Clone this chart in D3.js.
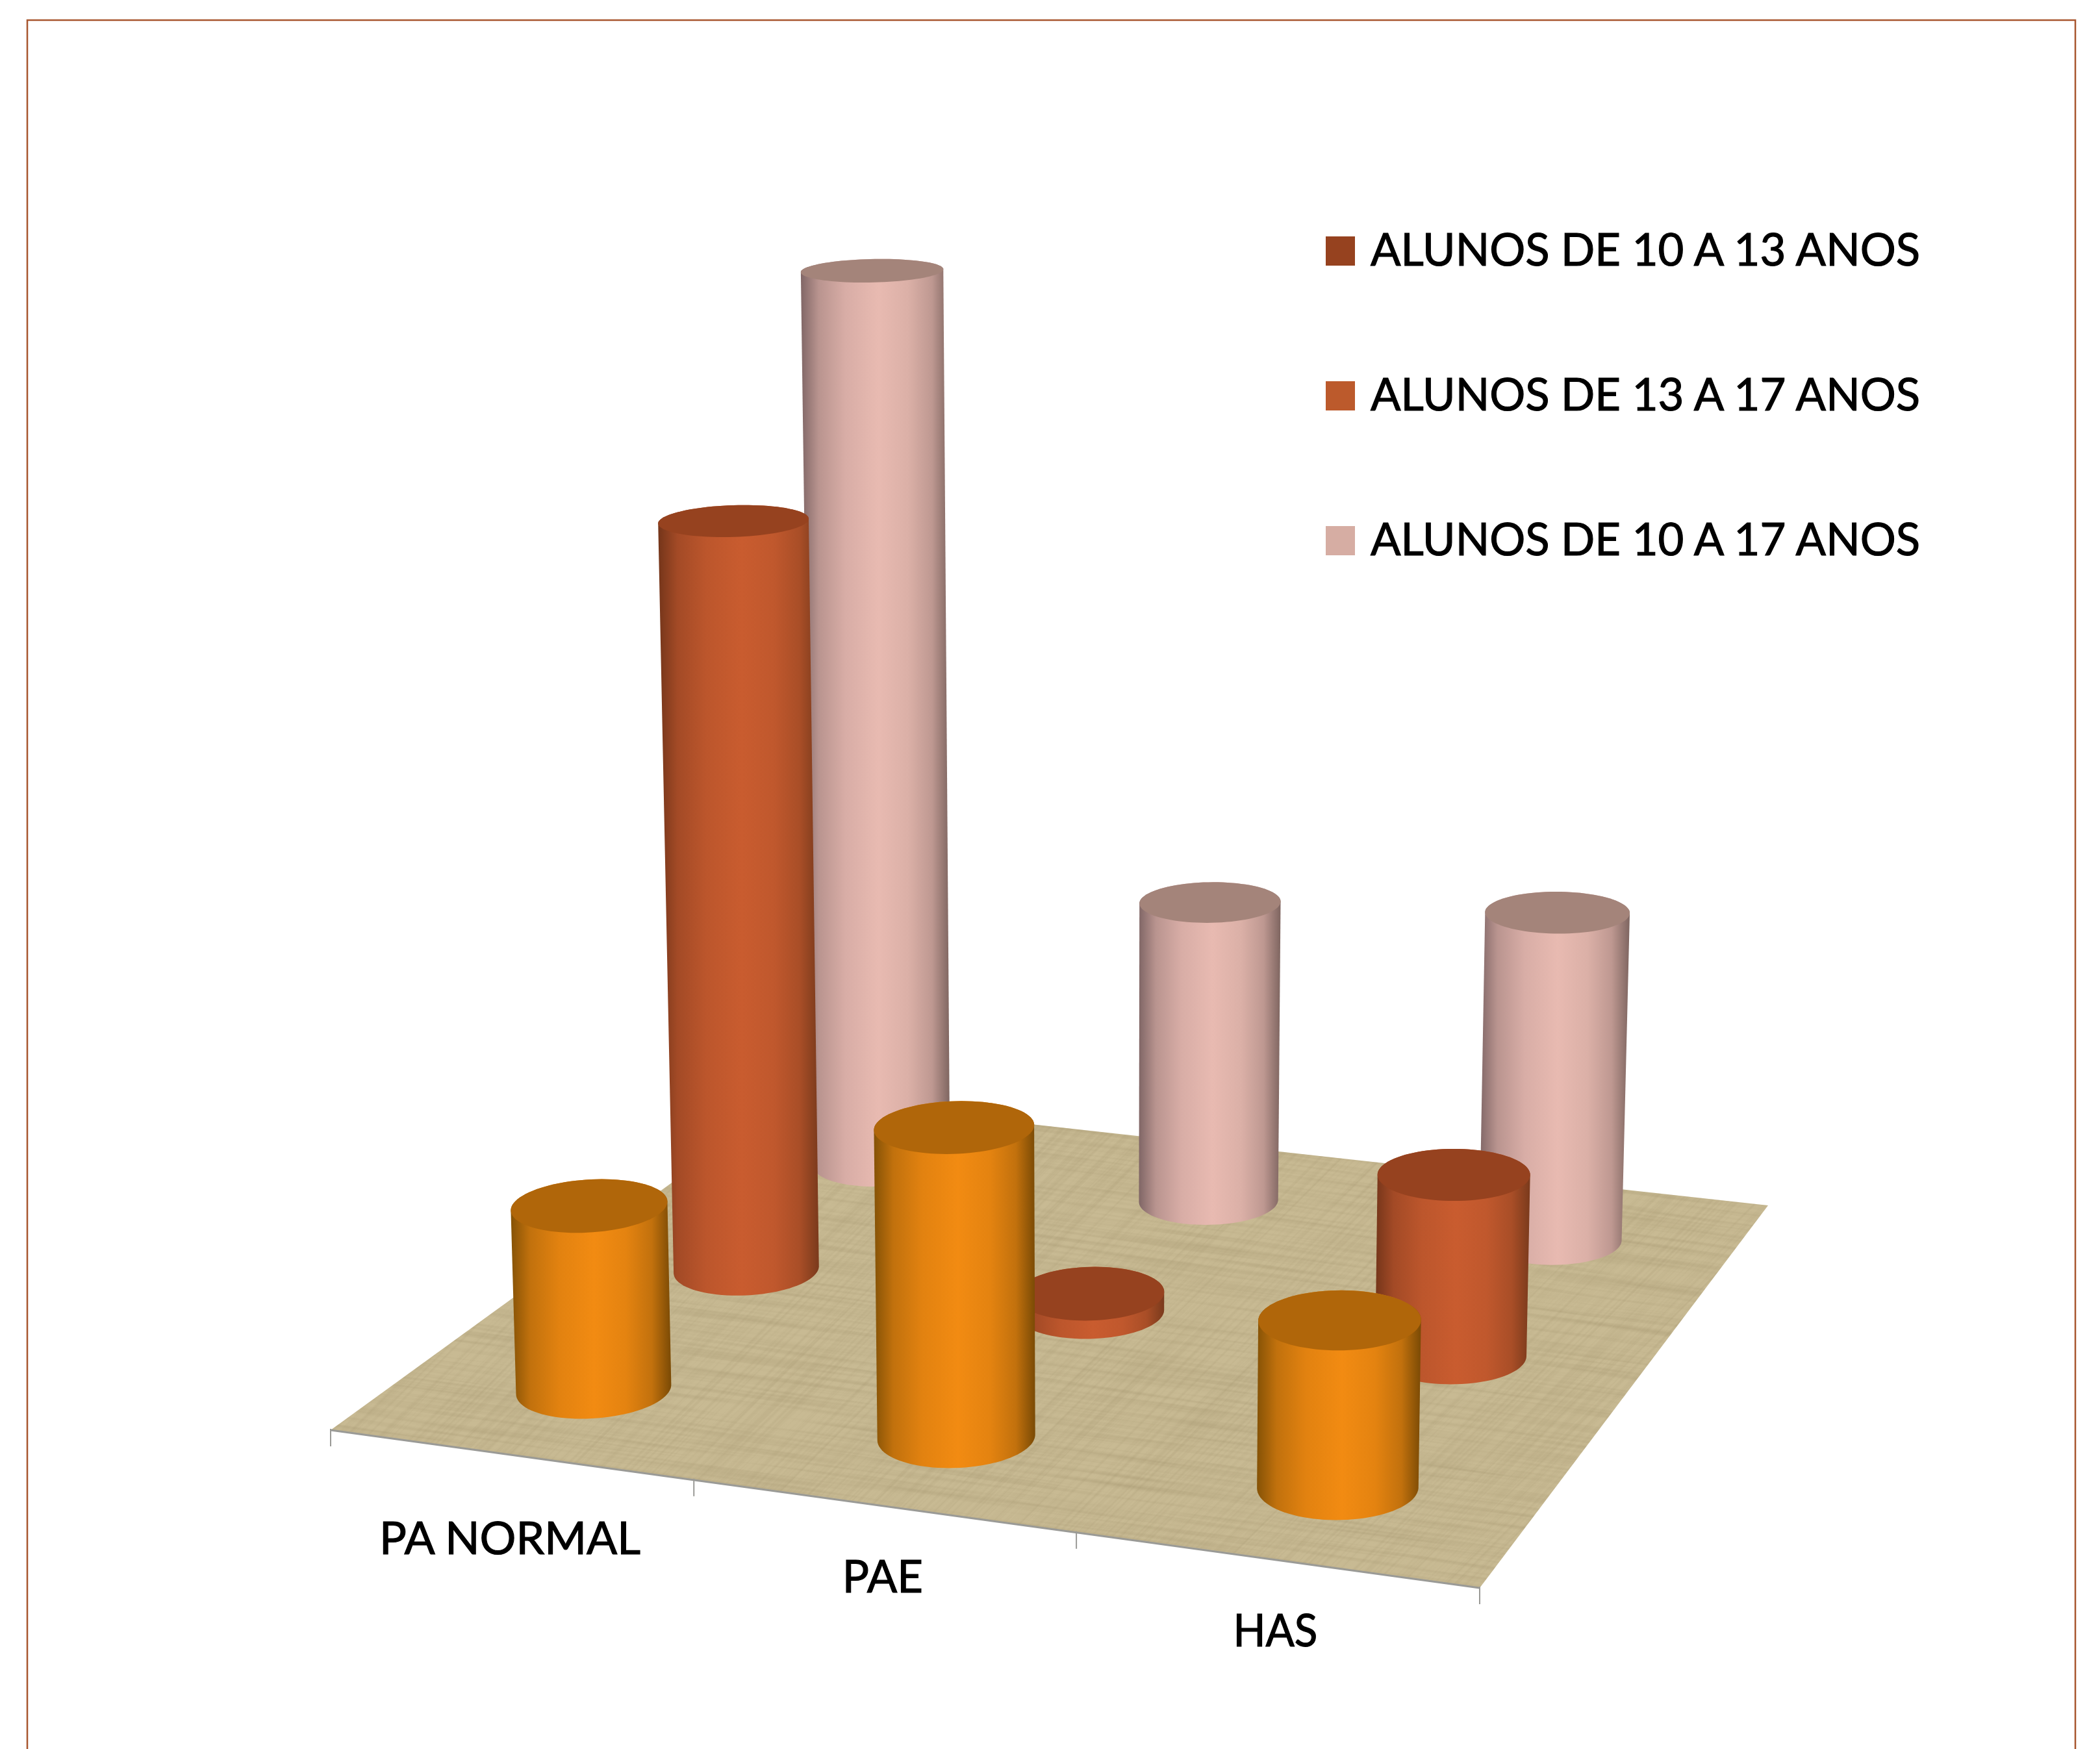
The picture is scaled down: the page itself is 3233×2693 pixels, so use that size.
<!DOCTYPE html>
<html>
<head>
<meta charset="utf-8">
<script src="https://cdnjs.cloudflare.com/ajax/libs/d3/7.8.5/d3.min.js"></script>
<style>
  html, body { margin: 0; padding: 0; background: #fff; }
  svg { display: block; }
  text { font-family: Lato, "Open Sans", sans-serif; fill: #000; stroke: #000; stroke-width: 1.2px; }
</style>
</head>
<body>
<div id="chart"></div>
<script>
//chart values
var categories = ["PA NORMAL", "PAE", "HAS"];
var alunos10a13 = [39, 64, 34];
var alunos13a17 = [164, 4, 39];
var alunos10a17 = [205, 69, 74];
var legendLabels = ["ALUNOS DE 10 A 13 ANOS", "ALUNOS DE 13 A 17 ANOS", "ALUNOS DE 10 A 17 ANOS"];
var legendColors = ["#96421f", "#bc5a2c", "#d6ada3"];

//front row first, back row last
var rows = [alunos10a13, alunos13a17, alunos10a17];
var rowColors = [
  {top: "#b0660a", edgeL: "#855206", mid: "#f28b12", edgeR: "#7a4a05"},
  {top: "#96421f", edgeL: "#74351a", mid: "#c95c2f", edgeR: "#7a3a1c"},
  {top: "#a4847a", edgeL: "#806666", mid: "#e8bab1", edgeR: "#7e6560"}
];

var width = 3233, height = 2693;
var svg = d3.select("#chart").append("svg")
            .attr("width", width)
            .attr("height", height);
var defs = svg.append("defs");

//floor corners on screen: front left, front right, back right, back left
var A = [509, 2202], B = [2278, 2445], C = [2722, 1856], D = [1215, 1690];
//vanishing point of the vertical edges
var vanish = [1700, 34000];

//unit square to floor homography
var dx1 = B[0]-C[0], dx2 = D[0]-C[0], sx = A[0]-B[0]+C[0]-D[0];
var dy1 = B[1]-C[1], dy2 = D[1]-C[1], sy = A[1]-B[1]+C[1]-D[1];
var den = dx1*dy2-dx2*dy1;
var g = (sx*dy2-dx2*sy)/den, h = (dx1*sy-sx*dy1)/den;
var ha = B[0]-A[0]+g*B[0], hb = D[0]-A[0]+h*D[0], hc = A[0];
var hd = B[1]-A[1]+g*B[1], he = D[1]-A[1]+h*D[1], hf = A[1];

function project(u, v, t){
  var w = g*u+h*v+1+t;
  return [(ha*u+hb*v+hc+t*vanish[0])/w, (hd*u+he*v+hf+t*vanish[1])/w];
}

//scales: category along the front edge, row in depth, value upward
var uScale = d3.scaleBand().domain(d3.range(categories.length)).range([0, 1]);
var vScale = d3.scaleBand().domain(d3.range(rows.length)).range([0, 1]);
var tScale = d3.scaleLinear().domain([0, 205]).range([0, -0.0471]);
var radiusU = 0.065, radiusV = 0.073;

//floor
var floorPts = [A, B, C, D];
defs.append("clipPath").attr("id", "floorClip")
    .append("polygon").attr("points", floorPts.join(" "));

function linen(id, fx, fy, seed, op){
  var f = defs.append("filter").attr("id", id)
              .attr("color-interpolation-filters", "sRGB")
              .attr("x", 0).attr("y", 0).attr("width", 1).attr("height", 1);
  f.append("feTurbulence").attr("type", "fractalNoise")
   .attr("baseFrequency", fx+" "+fy).attr("numOctaves", 3).attr("seed", seed);
  f.append("feColorMatrix").attr("type", "matrix")
   .attr("values", "0 0 0 0 0.60  0 0 0 0 0.54  0 0 0 0 0.39  "+op+" 0 0 0 "+(-op*0.40));
}
linen("linenH", 0.003, 0.16, 3, 0.6);
linen("linenV", 0.16, 0.003, 8, 0.45);

var floor = svg.append("g").attr("id", "floor");
floor.append("polygon")
     .attr("points", floorPts.join(" "))
     .attr("fill", "#c8ba93");
var tex = floor.append("g").attr("clip-path", "url(#floorClip)");
tex.append("rect").attr("x", 0).attr("y", 1000).attr("width", 3000).attr("height", 1700)
   .attr("transform", "rotate(7.8 1500 2000)")
   .attr("filter", "url(#linenH)");
tex.append("rect").attr("x", 0).attr("y", 1000).attr("width", 3000).attr("height", 1700)
   .attr("transform", "translate(2000 0) skewX(-45)")
   .attr("filter", "url(#linenV)");

//front edge and ticks
var frontEdge = svg.append("g").attr("id", "xaxis");
frontEdge.append("line")
         .attr("x1", A[0]).attr("y1", A[1]).attr("x2", B[0]).attr("y2", B[1])
         .attr("stroke", "#9a9a96").attr("stroke-width", 3);
var tickU = uScale.domain().map(function(d){ return uScale(d); }).concat([1]);
frontEdge.selectAll("line.tick")
         .data(tickU)
         .enter()
         .append("line")
         .attr("class", "tick")
         .attr("x1", function(d){ return project(d, 0, 0)[0]; })
         .attr("x2", function(d){ return project(d, 0, 0)[0]; })
         .attr("y1", function(d){ return project(d, 0, 0)[1]-2; })
         .attr("y2", function(d){ return project(d, 0, 0)[1]+25; })
         .attr("stroke", "#9a9a96").attr("stroke-width", 2);

//category labels hang below the front edge
var labelDrop = [153, 133, 133];
var labelWidth = [402, 124, 130];
frontEdge.selectAll("text")
         .data(categories)
         .enter()
         .append("text")
         .attr("text-anchor", "middle")
         .attr("font-size", 70)
         .attr("textLength", function(d, i){ return labelWidth[i]; })
         .attr("lengthAdjust", "spacingAndGlyphs")
         .attr("x", function(d, i){ return project(uScale(i)+uScale.bandwidth()/2, 0, 0)[0]; })
         .attr("y", function(d, i){ return project(uScale(i)+uScale.bandwidth()/2, 0, 0)[1]+labelDrop[i]; })
         .text(function(d){ return d; });

//one body gradient per row
rowColors.forEach(function(c, i){
  var lg = defs.append("linearGradient").attr("id", "body"+i);
  var left = d3.interpolateRgb(c.edgeL, c.mid), right = d3.interpolateRgb(c.edgeR, c.mid);
  lg.append("stop").attr("offset", "0%").attr("stop-color", c.edgeL);
  lg.append("stop").attr("offset", "12%").attr("stop-color", left(0.55));
  lg.append("stop").attr("offset", "30%").attr("stop-color", left(0.85));
  lg.append("stop").attr("offset", "52%").attr("stop-color", c.mid);
  lg.append("stop").attr("offset", "72%").attr("stop-color", right(0.88));
  lg.append("stop").attr("offset", "88%").attr("stop-color", right(0.6));
  lg.append("stop").attr("offset", "100%").attr("stop-color", c.edgeR);
});

function ring(u, v, t){
  return d3.range(0, 360, 4).map(function(a){
    var r = a*Math.PI/180;
    return project(u+radiusU*Math.cos(r), v+radiusV*Math.sin(r), t);
  });
}
var closedLine = d3.line().curve(d3.curveLinearClosed);

//cylinders, back row first so nearer ones cover farther ones
var bars = [];
rows.forEach(function(values, r){
  values.forEach(function(val, c){
    bars.push({row: r, cat: c, value: val});
  });
});
bars.sort(function(a, b){ return b.row-a.row || a.cat-b.cat; });

var cyl = svg.append("g").attr("id", "bars")
             .selectAll("g")
             .data(bars)
             .enter()
             .append("g");
cyl.append("path")
   .attr("fill", function(d){ return "url(#body"+d.row+")"; })
   .attr("d", function(d){
     var u = uScale(d.cat)+uScale.bandwidth()/2, v = vScale(d.row)+vScale.bandwidth()/2;
     return closedLine(d3.polygonHull(ring(u, v, 0).concat(ring(u, v, tScale(d.value)))));
   });
cyl.append("path")
   .attr("fill", function(d){ return rowColors[d.row].top; })
   .attr("d", function(d){
     var u = uScale(d.cat)+uScale.bandwidth()/2, v = vScale(d.row)+vScale.bandwidth()/2;
     return closedLine(ring(u, v, tScale(d.value)));
   });

//legend
var legend = svg.append("g").attr("id", "legend")
                .selectAll("g")
                .data(legendLabels)
                .enter()
                .append("g")
                .attr("transform", function(d, i){ return "translate(2041,"+(364+i*223)+")"; });
legend.append("rect")
      .attr("width", 45).attr("height", 45)
      .attr("fill", function(d, i){ return legendColors[i]; });
legend.append("text")
      .attr("x", 69).attr("y", 45)
      .attr("font-size", 70)
      .attr("textLength", 846)
      .attr("lengthAdjust", "spacingAndGlyphs")
      .text(function(d){ return d; });

//page frame, open at the bottom
svg.append("path")
   .attr("d", "M42,2693V31H3195V2693")
   .attr("fill", "none")
   .attr("stroke", "#a8562f")
   .attr("stroke-width", 2.5);
</script>
</body>
</html>
